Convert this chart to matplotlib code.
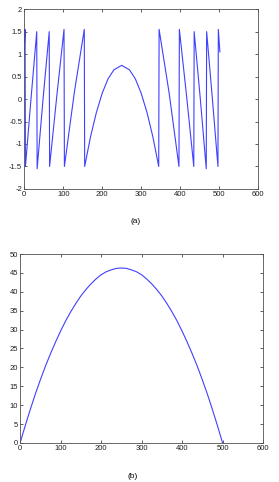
import matplotlib.pyplot as plt

# (a) wrapped phase, vertices
xa = [0, 2, 3, 17.5, 32, 33, 48.5, 64, 65, 83.5, 102, 103, 128.5, 154, 155,
      170, 185, 200, 215, 230, 250, 270, 285, 300, 315, 330, 345,
      346, 371.5, 397, 398, 416.5, 435, 436, 451.5, 467, 468, 482.5, 497, 498, 502]
ya = [1.1, 1.55, -1.5, 0.03, 1.5, -1.55, 0.03, 1.5, -1.5, 0.07, 1.55, -1.5, 0.15, 1.55, -1.5,
      -0.84, -0.3, 0.13, 0.45, 0.65, 0.75, 0.65, 0.45, 0.13, -0.3, -0.84, -1.5,
      1.55, 0.15, -1.5, 1.55, 0.07, -1.5, 1.5, 0.03, -1.55, 1.5, 0.03, -1.5, 1.55, 1.05]

# (b) unwrapped phase
xb = [0, 12.5, 25, 37.5, 50, 62.5, 75, 87.5, 100, 112.5, 125, 137.5, 150, 162.5,
      175, 187.5, 200, 212.5, 225, 237.5, 250,
      262.5, 275, 287.5, 300, 312.5, 325, 337.5, 350, 362.5, 375, 387.5,
      400, 412.5, 425, 437.5, 450, 462.5, 475, 487.5, 500]
yb = [0, 4.5, 8.8, 12.9, 16.7, 20.3, 23.6, 26.7, 29.6, 32.3, 34.7, 36.9, 38.9, 40.6,
      42.1, 43.4, 44.5, 45.3, 45.8, 46.2, 46.3,
      46.2, 45.8, 45.3, 44.5, 43.4, 42.1, 40.6, 38.9, 36.9, 34.7, 32.3,
      29.6, 26.7, 23.6, 20.3, 16.7, 12.9, 8.8, 4.5, 0]

plt.rcParams['font.family'] = ['Liberation Sans', 'DejaVu Sans']

fig = plt.figure(figsize=(2.79, 4.82), dpi=100, facecolor="white")
ax1 = fig.add_axes([0.087, 0.608, 0.838, 0.373])
ax2 = fig.add_axes([0.072, 0.081, 0.871, 0.392])

ax1.plot(xa, ya, color="#4040ff", linewidth=0.8)
ax1.set_xlim(0, 600)
ax1.set_ylim(-2, 2)
ax1.set_xticks(range(0, 601, 100))
ax1.set_yticks([-2, -1.5, -1, -0.5, 0, 0.5, 1, 1.5, 2])
ax1.set_yticklabels(["-2", "-1.5", "-1", "-0.5", "0", "0.5", "1", "1.5", "2"])

ax2.plot(xb, yb, color="#4040ff", linewidth=0.8)
ax2.set_xlim(0, 600)
ax2.set_ylim(0, 50)
ax2.set_xticks(range(0, 601, 100))
ax2.set_yticks(range(0, 51, 5))

for ax in (ax1, ax2):
    for s in ax.spines.values():
        s.set_color("#505050")
        s.set_linewidth(0.6)
    ax.tick_params(direction="in", length=2.5, width=0.5, labelsize=5.5,
                   top=True, right=True, colors="#202020", pad=1.5)

fig.text(0.485, 1 - 222 / 482, "(a)", ha="center", va="center", fontsize=6)
fig.text(0.477, 1 - 477 / 482, "(b)", ha="center", va="center", fontsize=6)

plt.savefig("out.png", dpi=100)
